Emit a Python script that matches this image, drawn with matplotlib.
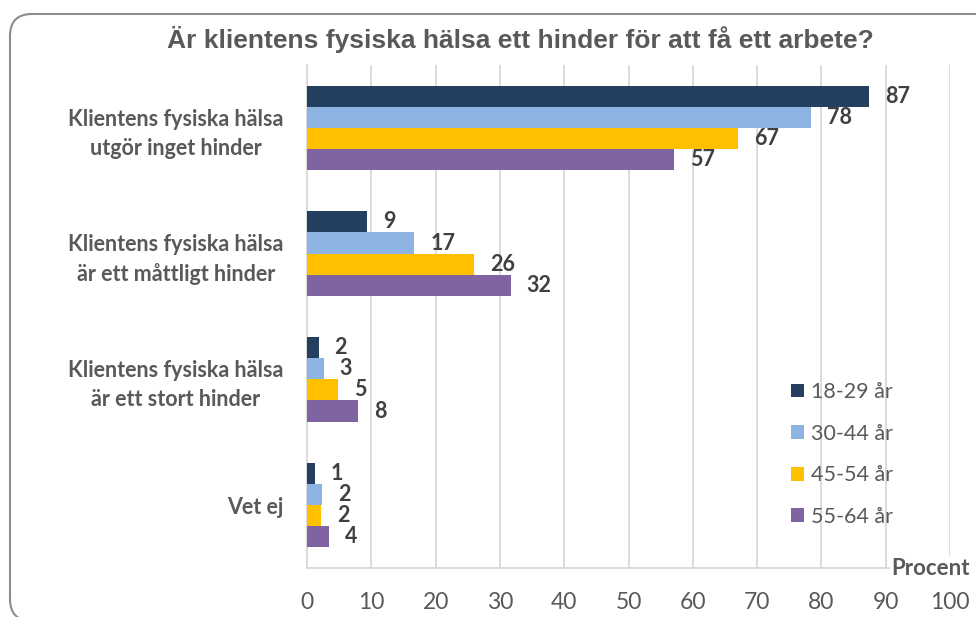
import matplotlib.pyplot as plt
import numpy as np
from matplotlib.patches import FancyBboxPatch
from matplotlib.transforms import IdentityTransform

categories = ['Klientens fysiska hälsa\nutgör inget hinder',
              'Klientens fysiska hälsa\när ett måttligt hinder',
              'Klientens fysiska hälsa\när ett stort hinder',
              'Vet ej']
groups = ['18-29 år', '30-44 år', '45-54 år', '55-64 år']
colors = ['#243f60', '#8db3e2', '#ffc000', '#8064a2']

# bar lengths, labels as printed
v_18_29 = [87.4, 9.3, 1.8, 1.2]
v_30_44 = [78.3, 16.7, 2.6, 2.4]
v_45_54 = [67.0, 26.0, 4.8, 2.2]
v_55_64 = [57.1, 31.7, 7.9, 3.5]
lab_18_29 = ['87', '9', '2', '1']
lab_30_44 = ['78', '17', '3', '2']
lab_45_54 = ['67', '26', '5', '2']
lab_55_64 = ['57', '32', '8', '4']

series = [v_18_29, v_30_44, v_45_54, v_55_64]
labels = [lab_18_29, lab_30_44, lab_45_54, lab_55_64]

txt = '#595959'
fig = plt.figure(figsize=(9.76, 6.17), dpi=100)
ax = fig.add_axes([0.3145, 0.0794, 0.659, 0.8153])

# rounded frame around the chart (pixel coords, runs off right/bottom edge)
fig.patches.append(FancyBboxPatch((10, -4), 1000, 607, boxstyle='round,pad=0,rounding_size=22',
                                  transform=IdentityTransform(), fc='none', ec='#8c8c8c', lw=1.5))

y = np.arange(len(categories))
h = 0.168
for i, (vals, labs) in enumerate(zip(series, labels)):
    pos = y - 1.5 * h + i * h
    ax.barh(pos, vals, height=h, color=colors[i], label=groups[i], zorder=3)
    for p, v, t in zip(pos, vals, labs):
        ax.annotate(t, (v, p), xytext=(11.5, 0), textcoords='offset points', ha='left', va='center',
                    fontsize=15.5, fontweight='bold', color='#404040', family='Lato')

ax.set_xlim(0, 100)
ax.set_ylim(len(categories) - 0.5, -0.5)
ax.set_xticks(range(0, 101, 10))
ax.set_yticks(y)
ax.set_yticklabels(categories, fontsize=15.5, fontweight='bold', color=txt, family='Lato',
                   linespacing=1.45, multialignment='center')
for t in ax.get_yticklabels():
    t.set_y(t.get_position()[1])
ax.tick_params(axis='y', length=0, pad=17)
ax.tick_params(axis='x', length=0, pad=17.5, labelsize=16.5, labelcolor=txt)
for t in ax.get_xticklabels():
    t.set_family('Lato')
ax.grid(axis='x', color='#d9d9d9', lw=1.3, zorder=0)
for s in ['top', 'right']:
    ax.spines[s].set_visible(False)
ax.spines['left'].set_color('#d9d9d9')
ax.spines['bottom'].set_color('#d9d9d9')
ax.spines['left'].set_linewidth(1.3)
ax.spines['bottom'].set_linewidth(1.3)

ax.text(0.969, 0.0, 'Procent', transform=ax.transAxes, ha='center', va='center', zorder=5,
        fontsize=16, fontweight='bold', color=txt, family='Lato',
        bbox=dict(fc='white', ec='none', pad=1))

leg = ax.legend(loc='center left', bbox_to_anchor=(0.723, 0.2256), frameon=False,
                handlelength=0.6, handleheight=0.6, handletextpad=0.33, labelspacing=1.0,
                labelcolor=txt, prop={'family': 'Lato', 'size': 15.5})

fig.text(0.533, 0.936, 'Är klientens fysiska hälsa ett hinder för att få ett arbete?', ha='center', va='center',
         fontsize=19, fontweight='bold', color=txt, family='Liberation Sans')

fig.savefig('out.png', dpi=100)
